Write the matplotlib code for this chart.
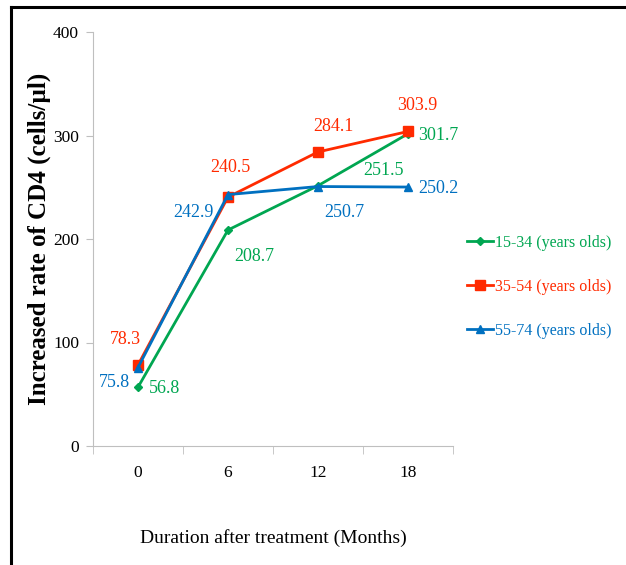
import matplotlib
matplotlib.use("Agg")
import matplotlib.pyplot as plt
from matplotlib.lines import Line2D

months = ["0", "6", "12", "18"]
age_15_34 = [56.8, 208.7, 251.5, 301.7]
age_35_54 = [78.3, 240.5, 284.1, 303.9]
age_55_74 = [75.8, 242.9, 250.7, 250.2]
series_names = ["15-34 (years olds)", "35-54 (years olds)", "55-74 (years olds)"]

plt.rcParams["font.family"] = ["Liberation Serif", "DejaVu Serif"]

green = "#00A651"
red = "#FF2A00"
blue = "#0070C0"

fig = plt.figure(figsize=(6.26, 5.65), dpi=100)
ax = fig.add_axes([93 / 626, 119 / 565, 360 / 626, 414 / 565])

x = range(len(months))
ax.plot(x, age_15_34, color=green, lw=2, marker="D", ms=4, label=series_names[0])
ax.plot(x, age_35_54, color=red, lw=2, marker="s", ms=7, label=series_names[1])
ax.plot(x, age_55_74, color=blue, lw=2, marker="^", ms=6, label=series_names[2])

# label centre offsets from the point, in points
green_off = [(19, -1), (19, -19), (47, 11), (22, -1)]
red_off = [(-9, 18), (2, 21), (11, 18), (7, 19)]
blue_off = [(-17, -11), (-25, -13), (19, -19), (22, -1)]

for vals, offs, col in [(age_15_34, green_off, green), (age_35_54, red_off, red),
                        (age_55_74, blue_off, blue)]:
    for i, v in enumerate(vals):
        ax.annotate(f"{v:.1f}", (i, v), xytext=offs[i], textcoords="offset points",
                    ha="center", va="center", color=col, fontsize=13)

ax.set_xlim(-0.5, 3.5)
ax.set_ylim(0, 400)
ax.set_yticks([0, 100, 200, 300, 400])
ax.set_xticks(list(x))
ax.set_xticklabels(months)
ax.set_xticks([-0.5, 0.5, 1.5, 2.5, 3.5], minor=True)
ax.tick_params(axis="x", which="major", length=0, pad=14, labelsize=12.5)
ax.tick_params(axis="x", which="minor", length=6, color="#BFBFBF", direction="out")
ax.tick_params(axis="y", length=5, color="#BFBFBF", labelsize=12.5, pad=5)
for s in ["top", "right"]:
    ax.spines[s].set_visible(False)
for s in ["left", "bottom"]:
    ax.spines[s].set_color("#BFBFBF")

ax.set_ylabel("Increased rate of CD4 (cells/\u00b5l)", fontsize=18, fontweight="bold")
ax.yaxis.set_label_coords(-0.118, 0.5)
ax.set_xlabel("Duration after treatment (Months)", fontsize=14, labelpad=34)

leg = ax.legend(loc="center left", bbox_to_anchor=(1.0, 0.384), frameon=False,
                fontsize=11.5, handlelength=1.6, handletextpad=0.1, labelspacing=1.75)
for text, col in zip(leg.get_texts(), [green, red, blue]):
    text.set_color(col)

# page frame
fig.add_artist(Line2D([11 / 626, 1], [1 - 7 / 565, 1 - 7 / 565], color="black", lw=2.2,
                      transform=fig.transFigure))
fig.add_artist(Line2D([11 / 626, 11 / 626], [0, 1 - 7 / 565], color="black", lw=2.2,
                      transform=fig.transFigure))

fig.savefig("out.png", dpi=100)
